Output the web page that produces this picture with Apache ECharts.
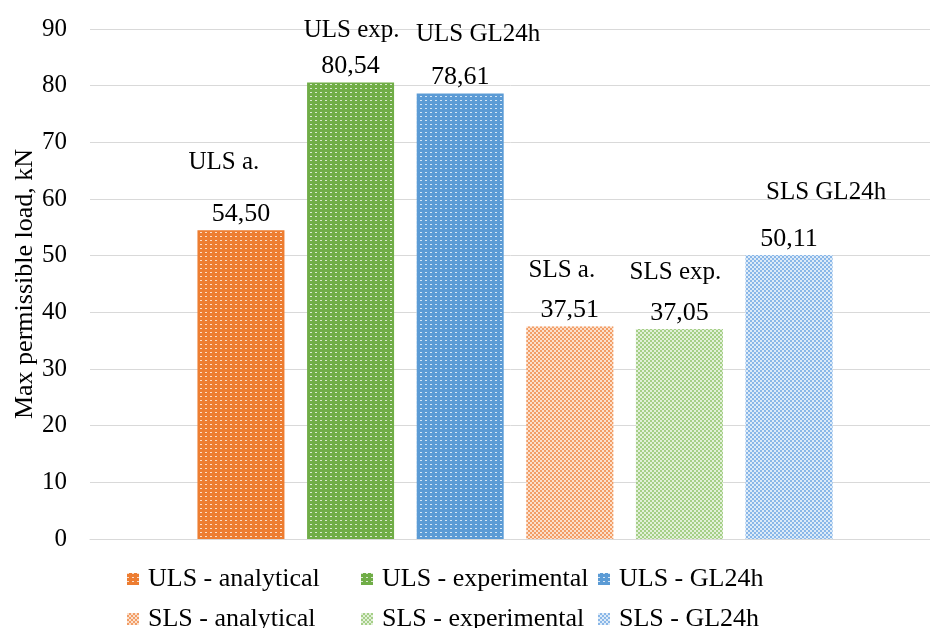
<!DOCTYPE html>
<html>
<head>
<meta charset="utf-8">
<script src="https://cdn.jsdelivr.net/npm/echarts@6/dist/echarts.min.js"></script>
<style>
html,body{margin:0;padding:0;background:#fff;}
#chart{width:930px;height:628px;}
</style>
</head>
<body>
<div id="chart"></div>
<script>
// ---- data ----
const categories = [''];
const seriesNames = ['ULS - analytical', 'ULS - experimental', 'ULS - GL24h', 'SLS - analytical', 'SLS - experimental', 'SLS - GL24h'];
const values = [54.50, 80.54, 78.61, 37.51, 37.05, 50.11];
const labelNames = ['ULS a.', 'ULS exp.', 'ULS GL24h', 'SLS a.', 'SLS exp.', 'SLS GL24h'];
const yMin = 0, yMax = 90, yInterval = 10;
const yAxisTitle = 'Max permissible load, kN';

// ---- styles ----
const FONT = 'Liberation Serif';
const baseColors = ['#ED7D31', '#70AD47', '#5B9BD5', '#FBE0CC', '#E2F0D9', '#DDEBF8'];
const patternColors = ['rgba(255,255,255,0.75)', 'rgba(255,255,255,0.75)', 'rgba(255,255,255,0.75)', '#F29D66', '#A5CF87', '#8AB7E8'];
const nameGaps = [52, 36, 43, 40, 41, 47];       // vertical distance name -> value (px)
const nameShift = [-17, 1, 18, -8, -4, 37];      // horizontal offset of name (px)

function decalFor(i) {
  if (i < 3) {
    return { symbol: 'rect', symbolSize: 1, color: patternColors[i], dashArrayX: [2, 3], dashArrayY: [1, 3] };
  }
  return { symbol: 'rect', symbolSize: 1, color: patternColors[i],
           dashArrayX: [[2, 2], [0, 2, 2, 0]], dashArrayY: [2, 0] };
}

function fmt(v) { return v.toFixed(2).replace('.', ','); }

const series = seriesNames.map((name, i) => {
  const dx = nameShift[i];
  return {
    name: name,
    type: 'bar',
    barWidth: 87,
    barGap: '26%',
    data: [values[i]],
    itemStyle: { color: baseColors[i], decal: decalFor(i) },
    label: {
      show: true,
      position: 'top',
      distance: 3,
      formatter: () => '{n|' + labelNames[i] + '}\n{v|' + fmt(values[i]) + '}',
      rich: {
        n: {
          fontFamily: FONT, fontSize: 25, color: '#000',
          lineHeight: 2 * nameGaps[i] - 26,
          padding: [0, Math.max(0, -2 * dx), 0, Math.max(0, 2 * dx)]
        },
        v: { fontFamily: FONT, fontSize: 26, color: '#000', lineHeight: 26 }
      }
    },
    emphasis: { disabled: true }
  };
});

function legendCol(left, names) {
  return {
    orient: 'vertical', left: left, top: 566, height: 150, padding: 0,
    itemGap: 14, itemWidth: 12, itemHeight: 12, icon: 'rect',
    selectedMode: false,
    data: names,
    textStyle: { fontFamily: FONT, fontSize: 26, lineHeight: 24, color: '#000', padding: [0, 0, 0, 4] }
  };
}

const chart = echarts.init(document.getElementById('chart'), null, { renderer: 'canvas' });
chart.setOption({
  animation: false,
  backgroundColor: '#fff',
  grid: { left: 90, right: -10, top: 29, bottom: 89, containLabel: false, outerBoundsMode: 'none' },
  legend: [
    legendCol(127, [seriesNames[0], seriesNames[3]]),
    legendCol(361, [seriesNames[1], seriesNames[4]]),
    legendCol(598, [seriesNames[2], seriesNames[5]])
  ],
  xAxis: {
    type: 'category', data: categories,
    axisLine: { lineStyle: { color: '#D9D9D9' } },
    axisTick: { show: false }, axisLabel: { show: false }
  },
  yAxis: {
    type: 'value', min: yMin, max: yMax, interval: yInterval,
    name: yAxisTitle, nameLocation: 'middle', nameGap: 52, nameMoveOverlap: false,
    nameTextStyle: { fontFamily: FONT, fontSize: 26, color: '#000' },
    axisLine: { show: false }, axisTick: { show: false },
    axisLabel: { fontFamily: FONT, fontSize: 25, color: '#000', margin: 23 },
    splitLine: { lineStyle: { color: '#D9D9D9', width: 1 } }
  },
  series: series
});
</script>
</body>
</html>
